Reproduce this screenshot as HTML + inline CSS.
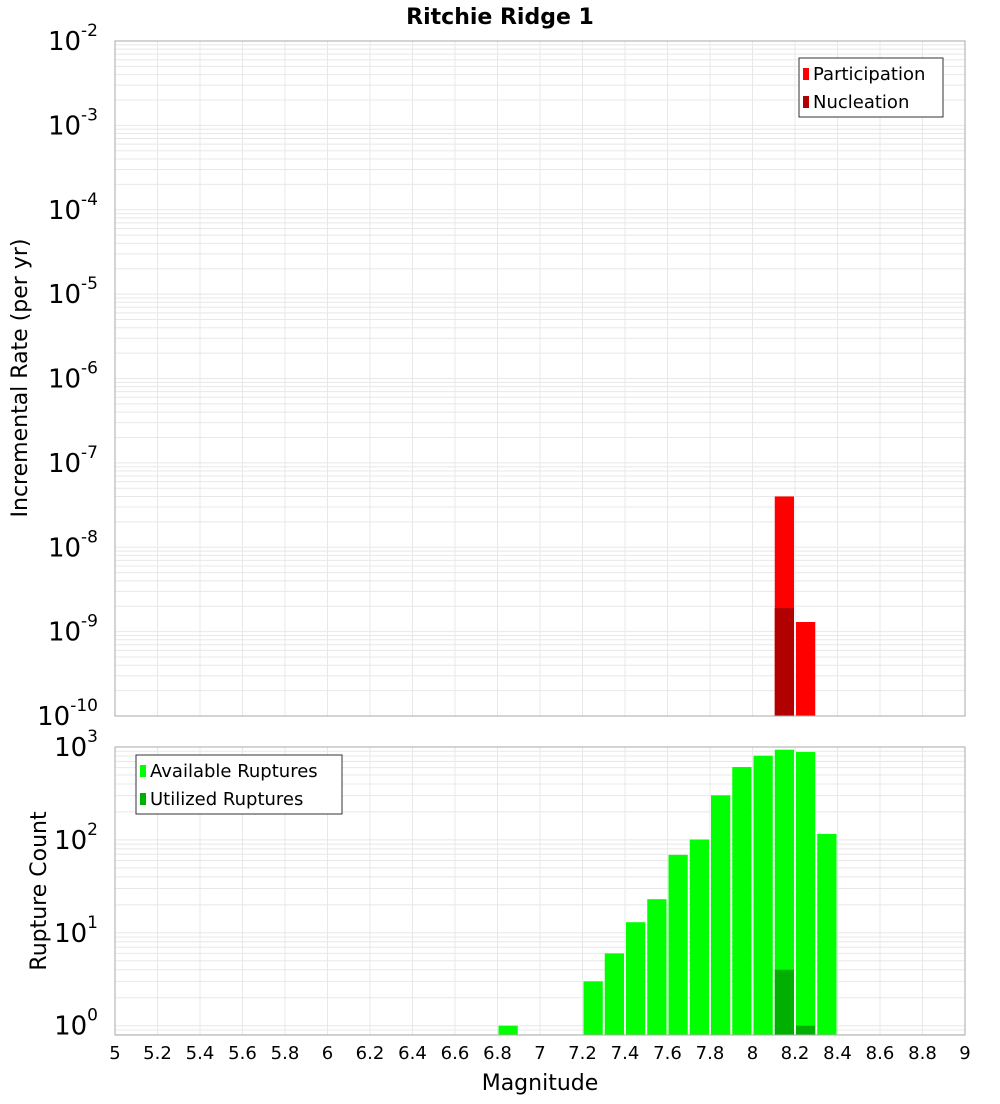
<!DOCTYPE html>
<html><head><meta charset="utf-8"><style>
body{margin:0;background:#fff;font-family:"DejaVu Sans","Liberation Sans",sans-serif}
svg text{font-family:"DejaVu Sans","Liberation Sans",sans-serif}
</style></head><body>
<svg id="c" width="1000" height="1100" xmlns="http://www.w3.org/2000/svg">
<text x="500" y="24" text-anchor="middle" font-size="22" font-weight="bold">Ritchie Ridge 1</text>
<text transform="translate(27,378) rotate(-90)" text-anchor="middle" font-size="22">Incremental Rate (per yr)</text>
<text transform="translate(46,891) rotate(-90)" text-anchor="middle" font-size="22">Rupture Count</text>
<text x="540" y="1090" text-anchor="middle" font-size="22">Magnitude</text>
<g id="g"></g>
</svg>
<script>
const binStarts=[6.8,7.2,7.3,7.4,7.5,7.6,7.7,7.8,7.9,8.0,8.1,8.2,8.3];
const available=[1,3,6,13,23,69,101,302,609,806,935,884,116];
const utilizedBins=[8.1,8.2];
const utilized=[4,1];
const partBins=[8.1,8.2];
const participation=[4.0e-8,1.3e-9];
const nuclBins=[8.1];
const nucleation=[1.9e-9];
const xTicks=[5,5.2,5.4,5.6,5.8,6,6.2,6.4,6.6,6.8,7,7.2,7.4,7.6,7.8,8,8.2,8.4,8.6,8.8,9];
const topExps=[-2,-3,-4,-5,-6,-7,-8,-9,-10];
const botExps=[3,2,1,0];

const NS="http://www.w3.org/2000/svg";
const g=document.getElementById('g');
function el(t,a,p){const e=document.createElementNS(NS,t);for(const k in a)e.setAttribute(k,a[k]);(p||g).appendChild(e);return e;}
const L=115,R=965;
const xS=m=>L+(m-5)/4*(R-L);
const T1=41,B1=716,yT=v=>B1-(Math.log10(v)+10)/8*(B1-T1);
const T2=747,B2=1035,y0=1025.7,dec=(y0-T2)/3,yB=v=>y0-Math.log10(v)*dec;

function grid(top,bot,minE,maxE,yf){
  for(let e=minE;e<maxE;e++)for(let k=1;k<10;k++){const y=yf(k*Math.pow(10,e));if(y>=top&&y<=bot){
    const l=el('line',{x1:L,x2:R,y1:y,y2:y,stroke:'#e8e8e8','stroke-width':1});
    
    }}
  xTicks.forEach(t=>{const x=xS(t);
    const l=el('line',{x1:x,x2:x,y1:top,y2:bot,stroke:'#e8e8e8','stroke-width':1});
    
    });
}
grid(T1,B1,-10,-2,yT);
grid(T2,B2,-1,3,yB);

function bar(m,v,yf,bot,col,name){
  const x=xS(m)+1,w=xS(m+0.1)-xS(m)-2,y=yf(v);
  const r=el('rect',{x:x,y:y,width:w,height:bot-y,fill:col});
  
  
}
participation.forEach((v,i)=>bar(partBins[i],v,yT,B1,'#ff0000','participation-bar'));
nucleation.forEach((v,i)=>bar(nuclBins[i],v,yT,B1,'#b00000','nucleation-bar'));
available.forEach((v,i)=>bar(binStarts[i],v,yB,B2,'#00ff00','available-bar'));
utilized.forEach((v,i)=>bar(utilizedBins[i],v,yB,B2,'#00b000','utilized-bar'));

[[T1,B1,'top-plot-frame'],[T2,B2,'bottom-plot-frame']].forEach(([t,b,n])=>{
  const r=el('rect',{x:L,y:t,width:R-L,height:b-t,fill:'none',stroke:'#aaa'});
  
  });

function ylab(e,y,name){
  const t=el('text',{x:104,y:y+9,'text-anchor':'end','font-size':26});
  
  
  t.textContent='10';
  const s=el('tspan',{dy:-14,'font-size':17},t);s.textContent=String(e);
  t.setAttribute('x',98);
}
topExps.forEach(e=>ylab(e,yT(Math.pow(10,e)),'top-y-tick-label'));
botExps.forEach(e=>ylab(e,yB(Math.pow(10,e)),'bottom-y-tick-label'));
xTicks.forEach(t=>{const x=el('text',{x:xS(t),y:1059,'text-anchor':'middle','font-size':18});
  
  
  x.textContent=String(t);});

function legend(x,y,w,items,name){
  const lg=el('g',{});
  
  
  el('rect',{x:x,y:y,width:w,height:59,fill:'#fff',stroke:'#333'},lg);
  items.forEach((it,i)=>{
    el('rect',{x:x+4,y:y+10+i*28,width:6,height:12,fill:it[1]},lg);
    const t=el('text',{x:x+14,y:y+22+i*28,'font-size':18},lg);t.textContent=it[0];});
}
legend(799,58,144,[['Participation','#ff0000'],['Nucleation','#b00000']],'top-legend');
legend(136,755,206,[['Available Ruptures','#00ff00'],['Utilized Ruptures','#00b000']],'bottom-legend');
</script>
</body></html>
